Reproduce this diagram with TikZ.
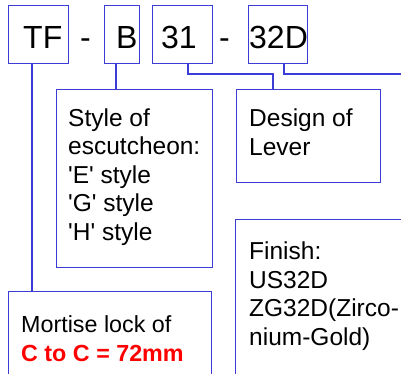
\documentclass[tikz,border=0pt]{standalone}
\usepackage{fontspec}
\setmainfont{Liberation Sans}
\usetikzlibrary{calc}
\definecolor{lineblue}{RGB}{60,60,215}
\definecolor{txtred}{RGB}{255,0,0}
\newcommand{\sq}{\textquotesingle}
\tikzset{
  box/.style={draw=lineblue, line width=1.2pt, inner sep=0pt, anchor=north west},
  conn/.style={draw=lineblue, line width=1.2pt},
  code/.style={font=\fontsize{32}{36}\selectfont, inner sep=0pt, anchor=base west},
  desc/.style={font=\fontsize{24.5}{28.6}\selectfont, inner sep=0pt, anchor=base west, align=left},
  descsmall/.style={desc, font=\fontsize{23.3}{29}\selectfont},
}
\begin{document}
\begin{tikzpicture}[x=1pt,y=-1pt]
\useasboundingbox (0,0) rectangle (401,373);
% code boxes
\node[box, minimum width=60pt, minimum height=58pt] (tf) at (8,5) {};
\node[box, minimum width=35pt, minimum height=58pt] (bb) at (104,5) {};
\node[box, minimum width=60pt, minimum height=58pt] (n31) at (152,5) {};
\node[box, minimum width=59pt, minimum height=58pt] (d32) at (248,5) {};
\node[code] (tft) at (23,48) {TF};
\node[code] (bbt) at (116,48) {B};
\node[code] (n31t) at (161,48) {31};
\node[code] (d32t) at (249,48) {32D};
\node[code] (dash1) at (80,48) {-};
\node[code] (dash2) at (219,48) {-};
% description boxes
\node[box, minimum width=156pt, minimum height=178pt] (style) at (56,89) {};
\node[box, minimum width=144pt, minimum height=93pt] (design) at (236,89) {};
\node[box, minimum width=180pt, minimum height=170pt] (finish) at (235,219) {};
\node[box, minimum width=203pt, minimum height=100pt] (mort) at (8,291) {};
% texts (anchored at the baseline of their last line)
\node[desc] (stylet) at (68,240.5) {Style of\\escutcheon:\\\sq E\sq{} style\\\sq G\sq{} style\\\sq H\sq{} style};
\node[desc] (designt) at (249,155.5) {Design of\\Lever};
\node[desc] (finisht) at (249,345.5) {Finish:\\US32D\\ZG32D(Zirco-\\nium-Gold)};
\node[descsmall] (mortt) at (21,361) {Mortise lock of\\\textcolor{txtred}{\bfseries C to C = 72mm}};
% connector coordinates
\coordinate (xtf) at (32,0);
\coordinate (xb) at (116,0);
\coordinate (x31) at (188,0);
\coordinate (xdes) at (273,74);
\coordinate (x32) at (284,0);
\coordinate (edge) at (402,74);
% connectors
\draw[conn] (tf.south -| xtf) -- (mort.north -| xtf);
\draw[conn] (bb.south -| xb) -- (style.north -| xb);
\draw[conn] (n31.south -| x31) |- (xdes) -- (design.north -| xdes);
\draw[conn] (d32.south -| x32) |- (edge);
\end{tikzpicture}
\end{document}
